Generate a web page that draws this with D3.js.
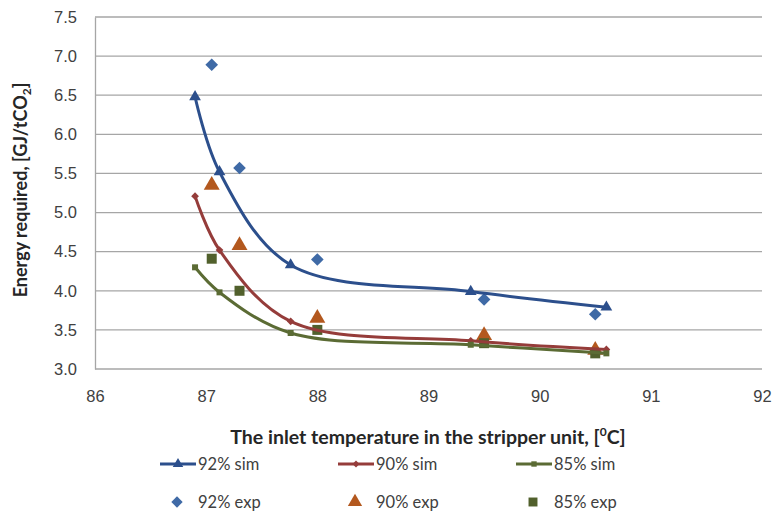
<!DOCTYPE html>
<html lang="en">
<head>
<meta charset="utf-8">
<title>Energy required vs inlet temperature</title>
<style>
  body { margin: 0; background: #fff; }
  svg { font-family: Lato, "Open Sans", sans-serif; }
  .tick text { font-size: 16.5px; fill: #404040; }
  .title { font-weight: bold; fill: #262626; }
  .legend text { font-size: 16.5px; fill: #404040; }
</style>
</head>
<body>
<svg width="775" height="515"></svg>
<script src="https://d3js.org/d3.v7.min.js"></script>
<script>
// simulated curves
var simT = [86.9, 87.12, 87.76, 89.38, 90.6];
var sim92 = [6.48, 5.52, 4.33, 3.99, 3.79];
var sim90 = [5.21, 4.52, 3.61, 3.36, 3.25];
var sim85 = [4.30, 3.98, 3.46, 3.31, 3.20];

// experimental points
var expT = [87.05, 87.3, 88.0, 89.5, 90.5];
var exp92 = [6.89, 5.57, 4.40, 3.89, 3.70];
var exp90 = [5.35, 4.58, 3.65, 3.43, 3.24];
var exp85 = [4.41, 4.00, 3.50, 3.33, 3.20];

var xTicks = [86, 87, 88, 89, 90, 91, 92];
var yTicks = [3.0, 3.5, 4.0, 4.5, 5.0, 5.5, 6.0, 6.5, 7.0, 7.5];

var svg = d3.select("svg"),
    margin = {top: 17, right: 13, bottom: 146, left: 95},
    width = 775 - margin.left - margin.right,
    height = 515 - margin.top - margin.bottom,
    g = svg.append("g").attr("transform", "translate(" + margin.left + "," + margin.top + ")");

var x = d3.scaleLinear().domain([86, 92]).range([0, width]);
var y = d3.scaleLinear().domain([3, 7.5]).range([height, 0]);

// gridlines
g.append("g")
    .selectAll("line")
    .data(yTicks)
    .enter().append("line")
    .attr("x1", 0).attr("x2", width)
    .attr("y1", function(d) { return y(d); })
    .attr("y2", function(d) { return y(d); })
    .style("stroke", "#a6a6a6")
    .style("stroke-width", 1.3);

var yAxis = g.append("g")
    .call(d3.axisLeft(y).tickValues(yTicks).tickFormat(d3.format(".1f")).tickSize(0).tickPadding(18));
yAxis.select(".domain").style("stroke", "#a6a6a6").style("stroke-width", 1.3);

var xAxis = g.append("g")
    .attr("transform", "translate(0," + height + ")")
    .call(d3.axisBottom(x).tickValues(xTicks).tickFormat(d3.format("d")).tickSize(0).tickPadding(21));
xAxis.select(".domain").remove();

// axis titles
var yt = svg.append("text")
    .attr("class", "title")
    .attr("font-size", "18px")
    .attr("transform", "translate(27," + (margin.top + height / 2 - 3) + ")rotate(-90)")
    .attr("text-anchor", "middle");
yt.append("tspan").text("Energy required, [GJ/tCO");
yt.append("tspan").attr("font-size", "12px").attr("dy", 4).text("2");
yt.append("tspan").attr("dy", -4).text("]");

var xt = svg.append("text")
    .attr("class", "title")
    .attr("font-size", "19.5px")
    .attr("x", 428)
    .attr("y", 444)
    .attr("text-anchor", "middle");
xt.append("tspan").text("The inlet temperature in the stripper unit, [");
xt.append("tspan").attr("font-size", "12px").attr("dy", -8).text("0");
xt.append("tspan").attr("dy", 8).text("C]");

var series = [
  {name: "92% sim", ys: sim92, color: "#2c4f8c", sym: d3.symbolTriangle, size: 60, rot: 0},
  {name: "90% sim", ys: sim90, color: "#953c3a", sym: d3.symbolSquare, size: 30, rot: 45},
  {name: "85% sim", ys: sim85, color: "#5b6b34", sym: d3.symbolSquare, size: 36, rot: 0}
];
var exps = [
  {name: "92% exp", ys: exp92, color: "#3f6aa6", sym: d3.symbolSquare, size: 80, rot: 45},
  {name: "90% exp", ys: exp90, color: "#b3581e", sym: d3.symbolTriangle, size: 110, rot: 0},
  {name: "85% exp", ys: exp85, color: "#51602c", sym: d3.symbolSquare, size: 100, rot: 0}
];

var line = d3.line()
    .x(function(d) { return x(d[0]); })
    .y(function(d) { return y(d[1]); })
    .curve(d3.curveCatmullRom.alpha(0.5));

function place(s) {
  return function(d) { return "translate(" + x(d[0]) + "," + y(d[1]) + ")rotate(" + s.rot + ")"; };
}

exps.forEach(function(s) {
  g.append("g").selectAll("path")
    .data(d3.zip(expT, s.ys))
    .enter().append("path")
    .attr("transform", place(s))
    .attr("d", d3.symbol().type(s.sym).size(s.size))
    .style("fill", s.color);
});

series.forEach(function(s) {
  var pts = d3.zip(simT, s.ys);
  g.append("path")
    .datum(pts)
    .attr("d", line)
    .style("fill", "none")
    .style("stroke", s.color)
    .style("stroke-width", 3);
  g.append("g").selectAll("path")
    .data(pts)
    .enter().append("path")
    .attr("transform", place(s))
    .attr("d", d3.symbol().type(s.sym).size(s.size))
    .style("fill", s.color);
});

// legend
var legX = [160, 338, 516];
var legend = svg.append("g").attr("class", "legend");
series.forEach(function(s, i) {
  var lg = legend.append("g").attr("transform", "translate(" + legX[i] + ",464)");
  lg.append("line").attr("x1", 0).attr("x2", 36)
    .style("stroke", s.color).style("stroke-width", 3);
  lg.append("path").attr("transform", "translate(18,0)rotate(" + s.rot + ")")
    .attr("d", d3.symbol().type(s.sym).size(s.size * 0.8)).style("fill", s.color);
  lg.append("text").attr("x", 38).attr("y", 6).text(s.name);
});
exps.forEach(function(s, i) {
  var lg = legend.append("g").attr("transform", "translate(" + legX[i] + ",502)");
  lg.append("path").attr("transform", "translate(17,0)rotate(" + s.rot + ")")
    .attr("d", d3.symbol().type(s.sym).size(s.size * 0.8)).style("fill", s.color);
  lg.append("text").attr("x", 38).attr("y", 6).text(s.name);
});
</script>
</body>
</html>
